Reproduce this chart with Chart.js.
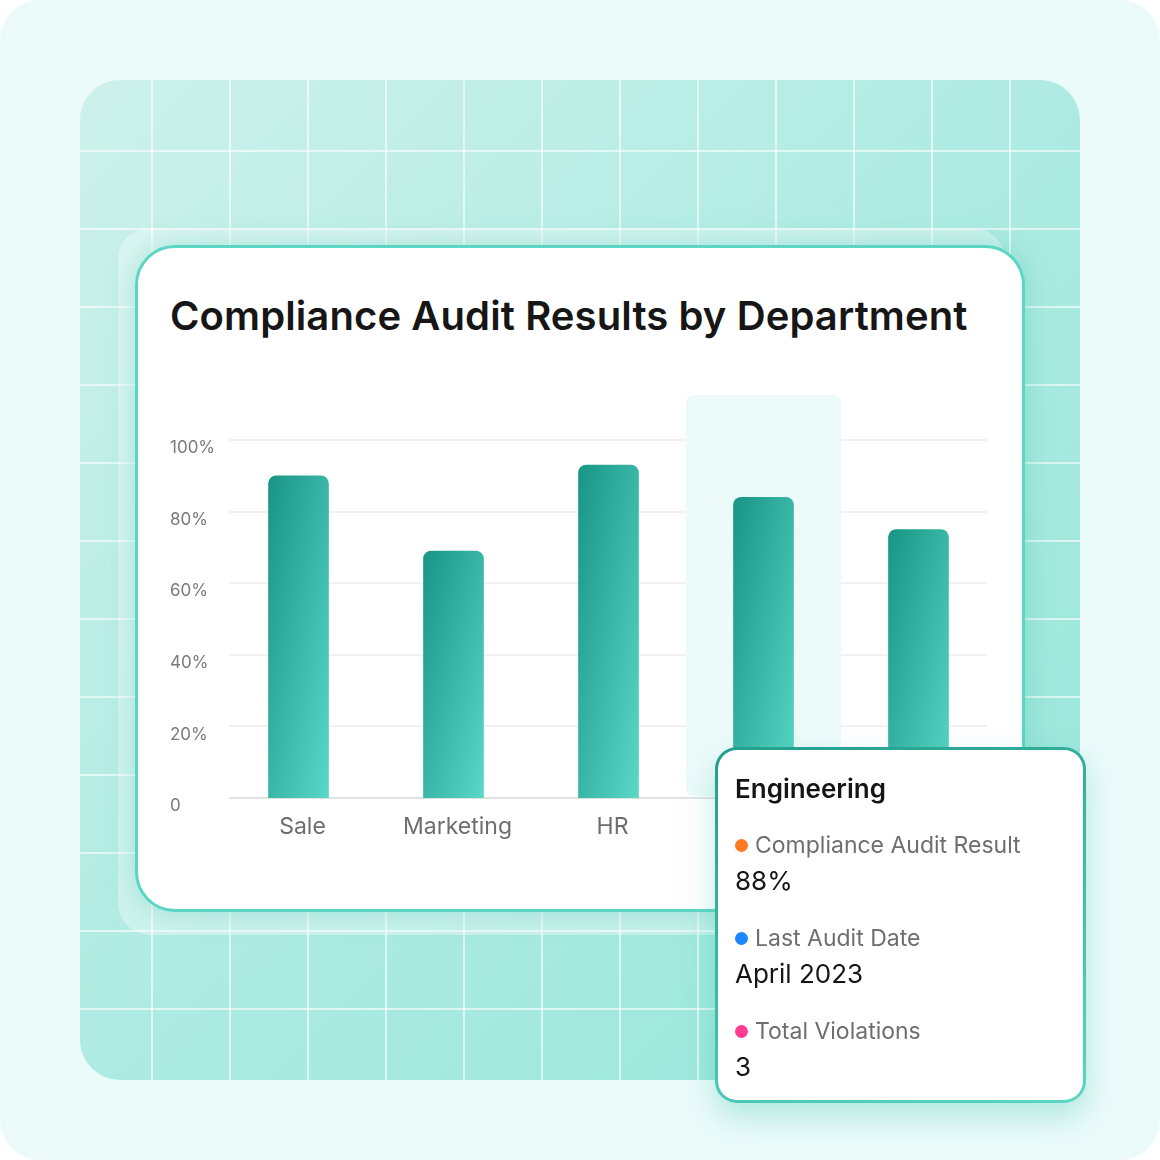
<!DOCTYPE html>
<html>
<head>
<meta charset="utf-8">
<script src="https://cdn.jsdelivr.net/npm/chart.js@4.4.1/dist/chart.umd.min.js"></script>
<style>
  html, body { margin: 0; padding: 0; background: #ffffff; }
  body { width: 1160px; height: 1160px; position: relative; overflow: hidden; font-family: 'Inter', sans-serif; }
  .outer { position: absolute; left: 0; top: 0; width: 1160px; height: 1160px; border-radius: 40px; background: #EBFBFA; }
  .panel { position: absolute; left: 80px; top: 80px; width: 1000px; height: 1000px; border-radius: 40px;
    background:
      linear-gradient(to right, rgba(255,255,255,0.6) 2px, transparent 2px) 71px 0 / 78px 78px,
      linear-gradient(to bottom, rgba(255,255,255,0.6) 2px, transparent 2px) 0 70px / 78px 78px,
      linear-gradient(135deg, #CDF1EB 0%, #AEEBE2 50%, #95E5D8 100%);
  }
  .glass { position: absolute; left: 118px; top: 228px; width: 887px; height: 707px; border-radius: 32px;
    background: rgba(255,255,255,0.38); }
  .card { position: absolute; left: 135px; top: 245px; width: 884px; height: 661px; border-radius: 40px;
    background: #ffffff; border: 3px solid #5BD6C4; box-shadow: 0 0 28px rgba(60,190,170,0.35); }
  .title { position: absolute; left: 170px; top: 291px; font-size: 40px; font-weight: 600; color: #161616; white-space: nowrap; letter-spacing: 0.1px; }
  canvas { position: absolute; left: 0; top: 0; }
  .tip { position: absolute; left: 715px; top: 747px; width: 365px; height: 350px; border-radius: 22px;
    border: 3px solid transparent;
    background: linear-gradient(#fff, #fff) padding-box, linear-gradient(160deg, #229E8E, #5AD6C4) border-box;
    box-shadow: 0 14px 30px rgba(70,195,175,0.35); }
  .tip div { position: absolute; white-space: nowrap; line-height: 1; }
  .tip .h { left: 17px; font-size: 26px; font-weight: 600; color: #151515; }
  .tip .k { left: 37px; font-size: 23px; color: #6E6E6E; }
  .tip .v { left: 17px; font-size: 26px; color: #151515; }
  .tip .dot { left: 17px; width: 13px; height: 13px; border-radius: 7px; }
</style>
</head>
<body>
<div class="outer"></div>
<div class="panel"></div>
<div class="glass"></div>
<div class="card"></div>
<div class="title" id="title"></div>
<canvas id="c" width="1160" height="1160"></canvas>
<div class="tip" id="tip"></div>
<script>
// ---- data ----
const chartTitle = 'Compliance Audit Results by Department';
const departments = ['Sale', 'Marketing', 'HR', 'Engineering', 'Finance'];
const auditResults = [90, 69, 93, 84, 75];
const yTickValues = [0, 20, 40, 60, 80, 100];
const yTickLabels = ['0', '20%', '40%', '60%', '80%', '100%'];
const activeIndex = 3;
const tooltipTitle = 'Engineering';
const tooltipKeys = ['Compliance Audit Result', 'Last Audit Date', 'Total Violations'];
const tooltipValues = ['88%', 'April 2023', '3'];
const tooltipDotColors = ['#FF7A1F', '#1E86FF', '#FF3B93'];

document.getElementById('title').textContent = chartTitle;

const BAR_W = 60;
function barGradient(ctx) {
  const chart = ctx.chart;
  const { chartArea, scales } = chart;
  if (!chartArea || ctx.type !== 'data') return '#2BAA98';
  const x = scales.x.getPixelForValue(ctx.dataIndex);
  const top = scales.y.getPixelForValue(ctx.raw);
  const bottom = scales.y.getPixelForValue(0);
  const w = BAR_W, h = bottom - top;
  const cx = x, cy = (top + bottom) / 2;
  const k = w * h / (h * h + w * w);
  const g = chart.ctx.createLinearGradient(cx - h * k, cy - w * k, cx + h * k, cy + w * k);
  g.addColorStop(0, '#189585');
  g.addColorStop(1, '#5AD8C6');
  return g;
}

const backdrop = {
  id: 'backdrop',
  beforeDatasetsDraw(chart) {
    const { ctx, chartArea, scales } = chart;
    const y = scales.y;
    const l = chartArea.left + 8, r = chartArea.right - 9;
    ctx.save();
    y.ticks.forEach(t => {
      const py = Math.round(y.getPixelForValue(t.value));
      ctx.strokeStyle = t.value === 0 ? '#E2E2E2' : '#F1F1F1';
      ctx.lineWidth = 2;
      ctx.beginPath(); ctx.moveTo(l, py); ctx.lineTo(r, py); ctx.stroke();
    });
    // hovered column highlight
    const cw = scales.x.width / departments.length;
    const cx = scales.x.getPixelForValue(activeIndex);
    ctx.fillStyle = '#ECFBFA';
    ctx.beginPath();
    ctx.roundRect(cx - cw / 2, chartArea.top - 45, cw, chartArea.bottom - 2 - (chartArea.top - 45), 8);
    ctx.fill();
    ctx.restore();
  }
};

const chart = new Chart(document.getElementById('c'), {
  type: 'bar',
  data: {
    labels: departments,
    datasets: [{
      data: auditResults,
      backgroundColor: barGradient,
      borderRadius: { topLeft: 8, topRight: 8, bottomLeft: 0, bottomRight: 0 },
      borderSkipped: false,
      barThickness: BAR_W
    }]
  },
  options: {
    responsive: false,
    animation: false,
    events: [],
    layout: { padding: { left: 170, top: 440, right: 164, bottom: 302 } },
    plugins: { legend: { display: false }, tooltip: { enabled: false } },
    scales: {
      x: {
        grid: { display: false, drawTicks: false },
        border: { display: false },
        ticks: {
          color: (c) => c.index >= activeIndex ? 'rgba(0,0,0,0)' : '#6E6E6E',
          font: { family: 'Inter', size: 23 }, padding: 15, maxRotation: 0, labelOffset: 4
        },
        afterFit: s => { s.height = 60; }
      },
      y: {
        min: 0, max: 100,
        afterBuildTicks: s => { s.ticks = yTickValues.map(v => ({ value: v })); },
        grid: { display: false, drawTicks: false },
        border: { display: false },
        ticks: {
          callback: (v) => yTickLabels[yTickValues.indexOf(v)],
          crossAlign: 'far', color: '#7A7A7A', font: { family: 'Inter', size: 17 }, padding: 0, labelOffset: 8
        },
        afterFit: s => { s.width = 51; }
      }
    }
  },
  plugins: [backdrop]
});

// tooltip overlay for the active category
const tip = document.getElementById('tip');
const tops = { h: 26, rows: [[84, 118], [177, 211], [270, 304]] };
function addDiv(cls, text, top, extra) {
  const d = document.createElement('div');
  d.className = cls; if (text != null) d.textContent = text;
  d.style.top = top + 'px';
  if (extra) Object.assign(d.style, extra);
  tip.appendChild(d);
}
addDiv('h', tooltipTitle, tops.h);
tooltipKeys.forEach((k, i) => {
  addDiv('dot', null, tops.rows[i][0] + 5, { background: tooltipDotColors[i] });
  addDiv('k', k, tops.rows[i][0]);
  addDiv('v', tooltipValues[i], tops.rows[i][1]);
});
</script>
</body>
</html>
